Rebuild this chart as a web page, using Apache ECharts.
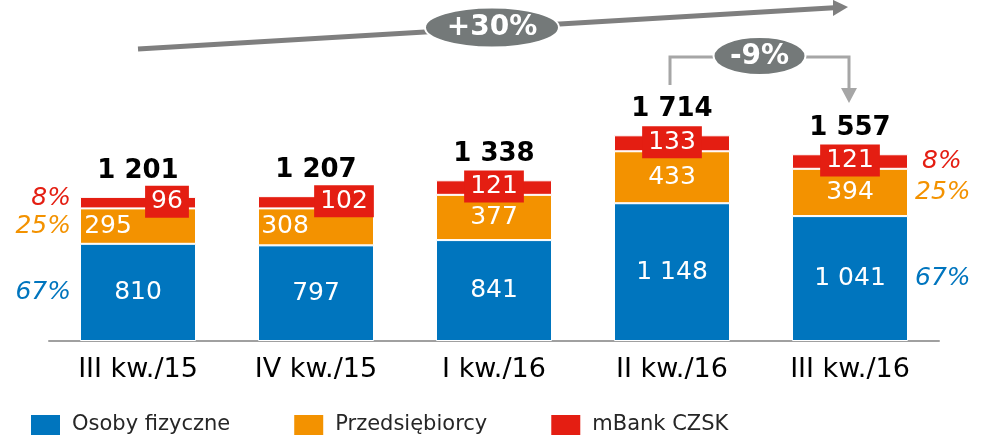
<!DOCTYPE html>
<html>
<head>
<meta charset="utf-8">
<script src="https://cdn.jsdelivr.net/npm/echarts@6/dist/echarts.min.js"></script>
<style>
  html, body { margin: 0; padding: 0; background: #fff; }
  #chart { width: 984px; height: 440px; }
</style>
</head>
<body>
<div id="chart"></div>
<script>
const quarters = ['III kw./15', 'IV kw./15', 'I kw./16', 'II kw./16', 'III kw./16'];
const osobyFizyczne = [810, 797, 841, 1148, 1041];
const przedsiebiorcy = [295, 308, 377, 433, 394];
const mBankCzsk = [96, 102, 121, 133, 121];
const totals = [1201, 1207, 1338, 1714, 1557];
const sharesFirst = ['67%', '25%', '8%'];
const sharesLast = ['67%', '25%', '8%'];
const growthAll = '+30%';
const growthLast = '-9%';

const BLUE = '#0075be';
const ORANGE = '#f39200';
const RED = '#e41e12';
const FONT = 'DejaVu Sans';

// shifted labels in the first two bars
const orangeShift = [-30, -31, 0, 0, 0];
const redShift = [29, 28, 0, 0, 0];

const fmt = v => String(v).replace(/\B(?=(\d{3})+(?!\d))/g, ' ');

const chart = echarts.init(document.getElementById('chart'));

// centre of each segment for the share labels
function segmentCentres(i) {
  const a = osobyFizyczne[i], b = przedsiebiorcy[i], c = mBankCzsk[i];
  return [a / 2, a + b / 2, a + b + c / 2];
}
const shareColors = [BLUE, ORANGE, RED];
const last = quarters.length - 1;

const option = {
  animation: false,
  textStyle: { fontFamily: FONT },
  grid: { left: 49, right: 45, top: 101, bottom: 99 },
  legend: {
    data: ['Osoby fizyczne', 'Przedsiębiorcy', 'mBank CZSK'],
    left: 29,
    top: 413,
    padding: 0,
    itemWidth: 31,
    itemHeight: 22,
    itemGap: 62,
    icon: 'rect',
    textStyle: { fontSize: 21, color: '#262626', fontFamily: FONT, padding: [0, 0, 0, 6] }
  },
  xAxis: {
    type: 'category',
    data: quarters,
    axisLine: { lineStyle: { color: '#a0a0a0', width: 2 } },
    axisTick: { show: false },
    axisLabel: { color: '#000', fontSize: 27, margin: 15, fontFamily: FONT }
  },
  yAxis: { type: 'value', min: 0, max: 2000, show: false, splitLine: { show: false } },
  series: [
    {
      name: 'Osoby fizyczne',
      type: 'bar',
      stack: 'total',
      barWidth: 116,
      itemStyle: { color: BLUE, borderColor: '#fff', borderWidth: 1 },
      label: { show: true, position: 'inside', color: '#fff', fontSize: 25, fontFamily: FONT, formatter: p => fmt(p.value) },
      data: osobyFizyczne
    },
    {
      name: 'Przedsiębiorcy',
      type: 'bar',
      stack: 'total',
      itemStyle: { color: ORANGE, borderColor: '#fff', borderWidth: 1 },
      label: { show: true, position: 'inside', color: '#fff', fontSize: 25, fontFamily: FONT },
      data: przedsiebiorcy.map((v, i) => ({ value: v, label: { offset: [orangeShift[i], 0] } }))
    },
    {
      name: 'mBank CZSK',
      type: 'bar',
      stack: 'total',
      itemStyle: { color: RED, borderColor: '#fff', borderWidth: 1 },
      label: {
        show: true, position: 'inside', color: '#fff', fontSize: 25, fontFamily: FONT,
        backgroundColor: RED, padding: [4, 6, 3, 6]
      },
      data: mBankCzsk.map((v, i) => ({ value: v, label: { offset: [redShift[i], -1] } }))
    },
    {
      name: 'total',
      type: 'scatter',
      symbolSize: 0,
      itemStyle: { color: '#000' },
      label: {
        show: true, position: 'top', distance: 13, color: '#000', opacity: 1,
        fontSize: 26, fontWeight: 'bold', fontFamily: FONT,
        formatter: p => fmt(p.value)
      },
      data: totals
    },
    {
      name: 'shares',
      type: 'scatter',
      symbolSize: 0,
      label: { show: true, fontSize: 25, fontStyle: 'italic', fontFamily: FONT, opacity: 1 },
      data: [
        ...segmentCentres(0).map((v, k) => ({
          value: [0, v],
          itemStyle: { color: shareColors[k] },
          label: {
            position: 'left', distance: 67, align: 'right', formatter: sharesFirst[k],
            color: shareColors[k], offset: [0, k === 2 ? -4 : 0]
          }
        })),
        ...segmentCentres(last).map((v, k) => ({
          value: [last, v],
          itemStyle: { color: shareColors[k] },
          label: {
            position: 'right', distance: 65, formatter: sharesLast[k],
            color: shareColors[k], offset: [k === 2 ? 7 : 0, 0]
          }
        }))
      ]
    }
  ]
};

chart.setOption(option);

// growth arrows, anchored on category centres
const cx = i => chart.convertToPixel({ xAxisIndex: 0 }, i);
const x0 = cx(0), x2 = cx(2), x3 = cx(3), x4 = cx(4);

const tipX = x4 - 2, startY = 49, tipY = 7;
const yAt = x => startY + (x - x0) * (tipY - startY) / (tipX - x0);
const headX = tipX - 15;

const bx1 = x3 - 2, bx2 = x4 - 1, by = 57;

chart.setOption({
  graphic: [
    { type: 'line', z: 5, shape: { x1: x0, y1: startY, x2: headX + 1, y2: yAt(headX + 1) },
      style: { stroke: '#7f7f7f', lineWidth: 5 } },
    { type: 'polygon', z: 5, shape: { points: [[headX, yAt(headX) - 8], [tipX, tipY], [headX, yAt(headX) + 8]] },
      style: { fill: '#7f7f7f' } },
    { type: 'ellipse', z: 10, shape: { cx: x2 - 2, cy: 27.5, rx: 67, ry: 20 },
      style: { fill: '#747979', stroke: '#fff', lineWidth: 2 } },
    { type: 'text', z: 11, style: { text: growthAll, x: x2 - 2, y: 28, align: 'center', verticalAlign: 'middle',
      fill: '#fff', font: 'bold 28px "DejaVu Sans"' } },

    { type: 'polyline', z: 5, shape: { points: [[bx1, 85], [bx1, by], [bx2, by], [bx2, 89]] },
      style: { stroke: '#a6a6a6', lineWidth: 3, fill: null } },
    { type: 'polygon', z: 5, shape: { points: [[bx2 - 8, 88], [bx2 + 8, 88], [bx2, 103]] },
      style: { fill: '#a6a6a6' } },
    { type: 'ellipse', z: 10, shape: { cx: (bx1 + bx2) / 2, cy: 56, rx: 46, ry: 19 },
      style: { fill: '#747979', stroke: '#fff', lineWidth: 2 } },
    { type: 'text', z: 11, style: { text: growthLast, x: (bx1 + bx2) / 2, y: 57, align: 'center', verticalAlign: 'middle',
      fill: '#fff', font: 'bold 28px "DejaVu Sans"' } }
  ]
});
</script>
</body>
</html>
